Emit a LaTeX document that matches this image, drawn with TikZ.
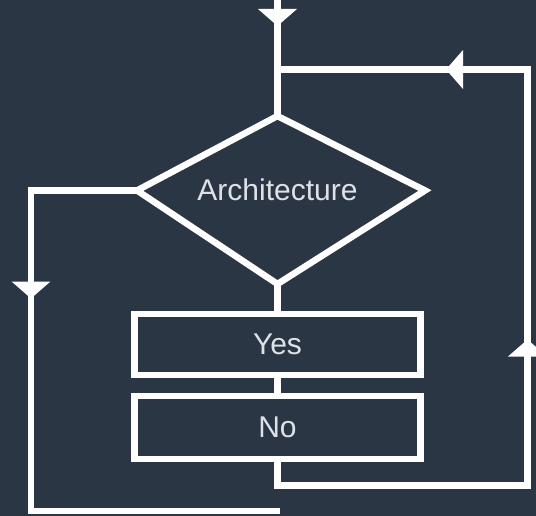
\documentclass[tikz,border=0pt]{standalone}
\usepackage{fontspec}
\setmainfont{Liberation Sans}
\usetikzlibrary{arrows.meta,decorations.markings}
\definecolor{bg}{RGB}{43,54,68}
\definecolor{txt}{RGB}{222,226,231}
\begin{document}
\begin{tikzpicture}[x=1pt,y=-1pt,
  line/.style={draw=white,color=white,line width=6.5pt,line join=miter},
  lbl/.style={text=txt,font=\fontsize{30}{35}\selectfont},
  box/.style={line,rectangle,minimum width=286pt,inner sep=0pt,outer sep=0pt,lbl},
  tip/.style={postaction={decorate,decoration={markings,mark=at position #1 with {\arrow{Triangle[width=38pt,length=17pt]}}}}}
]
\fill[bg] (0,0) rectangle (536,516);
\useasboundingbox (0,0) rectangle (536,516);
% diamond
\coordinate (dt) at (277.5,116);
\coordinate (dr) at (425,190.5);
\coordinate (db) at (277.5,284);
\coordinate (dl) at (137,190.5);
\draw[line] (dt) -- (dr) -- (db) -- (dl) -- cycle;
\node[lbl] (arch) at (277.5,190) {Architecture};
% boxes
\node[box,minimum height=61pt] (yes) at (277.5,344.5) {Yes};
\node[box,minimum height=63pt] (no) at (277.5,427.5) {No};
% coordinates
\coordinate (in) at (277.5,0);
\coordinate (j) at (277.5,69.5);
\coordinate (r1) at (277.5,485.5);
\coordinate (r2) at (527.5,485.5);
\coordinate (r3) at (527.5,69.5);
\coordinate (l1) at (31,190.5);
\coordinate (l2) at (31,511);
\coordinate (l3) at (280,511);
% connectors
\draw[line,tip=26pt] (in) -- (dt);
\draw[line] (db) -- (yes.north);
\draw[line] (yes.south) -- (no.north);
\draw[line,tip=422.5pt,tip=774pt] (no.south) -- (r1) -- (r2) -- (r3) -- (j);
\draw[line,tip=214pt] (dl) -- (l1) -- (l2) -- (l3);
\end{tikzpicture}
\end{document}
